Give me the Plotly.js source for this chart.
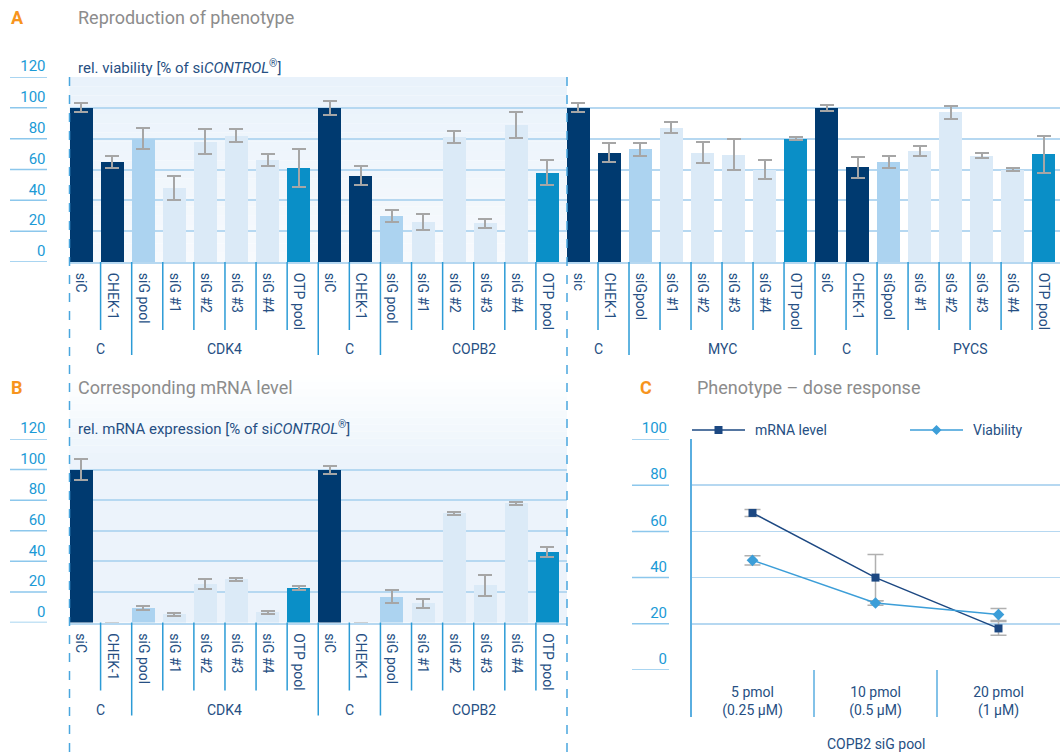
<!DOCTYPE html>
<html>
<head>
<meta charset="utf-8">
<script src="https://cdn.plot.ly/plotly-3.0.1.min.js"></script>
<style>html,body{margin:0;padding:0;background:#fff}#chart{width:1060px;height:754px}</style>
</head>
<body>
<div id="chart"></div>
<script>
// ---------- data ----------
const leftLabels  = ['siC','CHEK-1','siG pool','siG #1','siG #2','siG #3','siG #4','OTP pool','siC','CHEK-1','siG pool','siG #1','siG #2','siG #3','siG #4','OTP pool'];
const rightLabels = ['sic','CHEK-1','siGpool','siG #1','siG #2','siG #3','siG #4','OTP pool','siC','CHEK-1','siGpool','siG #1','siG #2','siG #3','siG #4','OTP pool'];
const leftGroups  = ['C','CDK4','C','COPB2'];
const rightGroups = ['C','MYC','C','PYCS'];
const groupSizes  = [2,6,2,6];

const viabLeft     = [100,65,80,48,78,82,66,61, 100,56,30,26,81,25,89,58];
const viabLeftErr  = [3,4,7,8,8,4,4,12.5, 4.5,6,4,5,3.7,3,8.6,8];
const viabRight    = [100,71,73,87,71,69.5,60,80, 100,61.5,65,72,97,69,60,70];
const viabRightErr = [3,6,4,3.6,7,10,6,1, 2,6.7,4,3.4,4,1.8,1,12];
const mrnaLevel    = [100,0,9.5,5.5,25,28.3,6.6,22.5, 100,0,17,12.5,71.3,24.4,78,46];
const mrnaLevelErr = [7,null,1,1,3.3,1,1,1.4, 2.6,null,4,3,1,6.8,1,3.3];

const doses       = ['5 pmol<br>(0.25 µM)','10 pmol<br>(0.5 µM)','20 pmol<br>(1 µM)'];
const doseMrna    = [68,40,18];
const doseMrnaErr = [1.5,10,3];
const doseViab    = [47.5,29,24];
const doseViabErr = [2,1,2.6];
const seriesNames = ['mRNA level','Viability'];

const yTicksAB = [0,20,40,60,80,100,120];
const yTicksC  = [0,20,40,60,80,100];

// ---------- style ----------
const W = 1060, H = 754;
const px = x => x / W;
const py = y => 1 - y / H;
const NAVY = '#003a70', POOL = '#acd3f0', SIG = '#dbeaf7', OTP = '#0a8fc7';
const GRID = '#b6d8f1', TICKC = '#1b9ad6', DARK = '#264f83', SEP = '#2c9bd6', ERR = '#a6a6a6';
const LINE_M = '#1c4882', LINE_V = '#3c9ed8';
const FONT = 'Roboto, "Noto Sans", sans-serif';

function colorFor(l){
  if (l==='siC'||l==='sic'||l==='CHEK-1') return NAVY;
  if (l.indexOf('OTP')===0) return OTP;
  if (l.indexOf('pool')>=0) return POOL;
  return SIG;
}
const BW = 0.74;
const centers = n => Array.from({length:n},(_,i)=>i+BW/2);

function barTrace(labels, vals, errs, xa, ya){
  return {
    type:'bar', x:centers(labels.length), y:vals, width:BW, xaxis:xa, yaxis:ya,
    marker:{color:labels.map(colorFor)}, showlegend:false, hoverinfo:'y',
    error_y:{type:'data', array:errs, visible:true, color:ERR, thickness:2, width:7}
  };
}

const data = [
  barTrace(leftLabels, viabLeft, viabLeftErr, 'x', 'y'),
  barTrace(rightLabels, viabRight, viabRightErr, 'x2', 'y2'),
  barTrace(leftLabels, mrnaLevel, mrnaLevelErr, 'x3', 'y3'),
  {type:'scatter', mode:'lines+markers', name:seriesNames[0], x:[0.5,1.5,2.5], y:doseMrna, xaxis:'x4', yaxis:'y4',
   line:{color:LINE_M, width:1.5}, marker:{symbol:'square', size:8, color:LINE_M}, showlegend:false,
   error_y:{type:'data', array:doseMrnaErr, color:'#b0b0b0', thickness:1.5, width:8}},
  {type:'scatter', mode:'lines+markers', name:seriesNames[1], x:[0.5,1.5,2.5], y:doseViab, xaxis:'x4', yaxis:'y4',
   line:{color:LINE_V, width:1.5}, marker:{symbol:'diamond', size:9, color:LINE_V}, showlegend:false,
   error_y:{type:'data', array:doseViabErr, color:'#b0b0b0', thickness:1.5, width:8}}
];

const tickFont = {family:FONT, size:15, color:TICKC};
const xLabFont = {family:FONT, size:14, color:DARK};

function yAx(domain, range, ticks, anchor, showLabels){
  return {domain:domain, range:range, anchor:anchor, tickvals:ticks, ticktext:ticks.map(String),
    showticklabels:showLabels, tickfont:tickFont, ticks:'', ticklabelstandoff:23, ticklabelshift:-11,
    showgrid:true, gridcolor:GRID, gridwidth:2, zeroline:false, showline:false, fixedrange:true, automargin:false};
}
function xAx(domain, range, labels, anchor){
  return {domain:domain, range:range, anchor:anchor, tickvals:centers(labels.length), ticktext:labels,
    tickangle:90, tickfont:xLabFont, ticks:'', ticklabelstandoff:6, showgrid:false, zeroline:false,
    showline:true, linecolor:GRID, linewidth:2, fixedrange:true, automargin:false};
}

const layout = {
  width:W, height:H, margin:{l:0,r:0,t:0,b:0,autoexpand:false}, paper_bgcolor:'#fff', plot_bgcolor:'rgba(0,0,0,0)',
  font:{family:FONT, color:DARK}, bargap:0, showlegend:false,
  xaxis:  xAx([px(69.5),px(567)], [0,16], leftLabels, 'y'),
  yaxis:  yAx([py(262),py(77)], [0,120], yTicksAB, 'x', true),
  xaxis2: xAx([px(567),1], [0,15.9], rightLabels, 'y2'),
  yaxis2: yAx([py(262),py(77)], [0,120], yTicksAB, 'x2', false),
  xaxis3: xAx([px(69.5),px(567)], [0,16], leftLabels, 'y3'),
  yaxis3: yAx([py(622.5),py(439)], [0,120], yTicksAB, 'x3', true),
  xaxis4: {domain:[px(691),1], range:[0,3], anchor:'y4', tickvals:[0.5,1.5,2.5], ticktext:doses,
           tickfont:{family:FONT,size:14,color:DARK}, ticks:'', ticklabelstandoff:12, showgrid:false,
           zeroline:false, showline:false, fixedrange:true, automargin:false},
  yaxis4: Object.assign(yAx([py(670),py(439)], [0,100], yTicksC, 'x4', true), {gridwidth:1.5}),
  shapes:[], annotations:[]
};

// backgrounds (gradients as bands)
function lerp(a,b,t){return Math.round(a+(b-a)*t);}
function mix(c1,c2,t){return 'rgb('+lerp(c1[0],c2[0],t)+','+lerp(c1[1],c2[1],t)+','+lerp(c1[2],c2[2],t)+')';}
function bands(x0,x1,yTop,yBot,cTop,cBot,n){
  for(let i=0;i<n;i++){
    const a=yTop+(yBot-yTop)*i/n, b=yTop+(yBot-yTop)*(i+1)/n;
    layout.shapes.push({type:'rect', xref:'paper', yref:'paper', x0:px(x0), x1:px(x1), y0:py(b), y1:py(a),
      fillcolor:mix(cTop,cBot,(i+0.5)/n), line:{width:0}, layer:'below'});
  }
}
bands(69.5,567,77,262,[233,242,251],[247,250,253],20);
bands(69.5,567,375,460,[255,255,255],[235,243,251],12);
bands(69.5,567,460,622.5,[235,243,251],[236,243,251],1);

// short tick-label underlines
yTicksAB.forEach(v=>{
  layout.shapes.push({type:'line', xref:'paper', yref:'y', x0:px(10), x1:px(47), y0:v, y1:v, line:{color:'#8cc7ec', width:1.5}});
  layout.shapes.push({type:'line', xref:'paper', yref:'y3', x0:px(10), x1:px(47), y0:v, y1:v, line:{color:'#8cc7ec', width:1.5}});
});
yTicksC.forEach(v=>{
  layout.shapes.push({type:'line', xref:'paper', yref:'y4', x0:px(632), x1:px(669), y0:v, y1:v, line:{color:'#8cc7ec', width:1.5}});
});

// category separators & group labels
function separators(xref, labelsCount, groups, axisY){
  const bounds=[0]; groupSizes.forEach(s=>bounds.push(bounds[bounds.length-1]+s));
  for(let i=1;i<=labelsCount;i++){
    const isGroup = bounds.indexOf(i)>=0;
    layout.shapes.push({type:'line', xref:xref, yref:'paper', x0:i, x1:i, y0:py(axisY), y1:py(axisY+(isGroup?93:68)),
      line:{color:SEP, width:1.5}});
  }
  groups.forEach((g,k)=>{
    layout.annotations.push({xref:xref, yref:'paper', x:(bounds[k]+bounds[k+1])/2, y:py(axisY+87), text:g,
      showarrow:false, xanchor:'center', yanchor:'middle', font:{family:FONT,size:14,color:DARK}});
  });
}
separators('x', 15, leftGroups, 262);
separators('x2', 15, rightGroups, 262);
separators('x3', 15, leftGroups, 622.5);

// dashed frame lines
[69.5,567].forEach(x=>{
  layout.shapes.push({type:'line', xref:'paper', yref:'paper', x0:px(x), x1:px(x), y0:py(77), y1:py(752),
    line:{color:'#4aa6de', width:1.5, dash:'dash'}});
});

// panel C axis line & separators
layout.shapes.push({type:'line', xref:'paper', yref:'paper', x0:px(691), x1:px(691), y0:py(439), y1:py(717), line:{color:'#5aaee0', width:2}});
[1,2].forEach(v=>layout.shapes.push({type:'line', xref:'x4', yref:'paper', x0:v, x1:v, y0:py(670), y1:py(717), line:{color:'#5aaee0', width:1.5}}));

// titles
function ann(x,y,text,size,color,opts){
  layout.annotations.push(Object.assign({xref:'paper', yref:'paper', x:px(x), y:py(y), text:text, showarrow:false,
    xanchor:'left', yanchor:'middle', font:{family:FONT,size:size,color:color}}, opts||{}));
}
const ORANGE = '#f7941d', GREY = '#8c8c8c';
ann(9,18,'<b>A</b>',18,ORANGE);
ann(76,18,'Reproduction of phenotype',18,GREY);
ann(9,387,'<b>B</b>',18,ORANGE);
ann(76,387,'Corresponding mRNA level',18,GREY);
ann(638,387,'<b>C</b>',18,ORANGE);
ann(695,387,'Phenotype – dose response',18,GREY);
ann(76,67,'rel. viability [% of si<i>CONTROL</i><sup>®</sup>]',15,DARK);
ann(76,428,'rel. mRNA expression [% of si<i>CONTROL</i><sup>®</sup>]',15,DARK);
ann(876,744,'COPB2 siG pool',14,DARK,{xanchor:'center'});

// manual legend for panel C
function legendItem(x0, color, symbol, label){
  const y = 430;
  layout.shapes.push({type:'line', xref:'paper', yref:'paper', x0:px(x0), x1:px(x0+53), y0:py(y), y1:py(y), line:{color:color, width:1.5}});
  const cx = x0+26.5;
  if (symbol==='square'){
    layout.shapes.push({type:'rect', xref:'paper', yref:'paper', x0:px(cx-4), x1:px(cx+4), y0:py(y+4), y1:py(y-4), fillcolor:color, line:{width:0}});
  } else {
    const d = 'M '+px(cx)+' '+py(y-5)+' L '+px(cx+5)+' '+py(y)+' L '+px(cx)+' '+py(y+5)+' L '+px(cx-5)+' '+py(y)+' Z';
    layout.shapes.push({type:'path', xref:'paper', yref:'paper', path:d, fillcolor:color, line:{width:0}});
  }
  ann(x0+61, y, label, 14, DARK);
}
legendItem(692, LINE_M, 'square', seriesNames[0]);
legendItem(910, LINE_V, 'diamond', seriesNames[1]);

Plotly.newPlot('chart', data, layout, {displayModeBar:false, staticPlot:true});
</script>
</body>
</html>
